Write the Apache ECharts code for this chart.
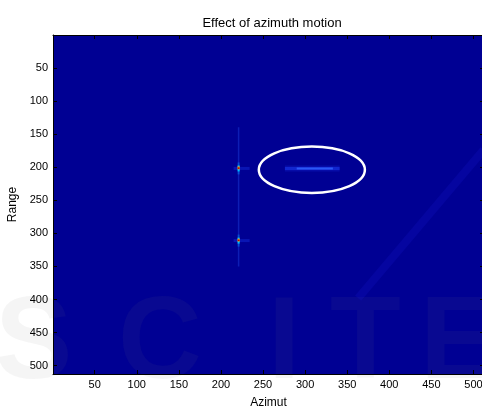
<!DOCTYPE html>
<html><head><meta charset="utf-8">
<script src="https://cdn.jsdelivr.net/npm/echarts@6/dist/echarts.min.js"></script>
<style>html,body{margin:0;padding:0;background:#fff}#c{width:482px;height:409px}</style>
</head><body><div id="c"></div>
<script>
const titleText = 'Effect of azimuth motion';
const xName = 'Azimut';
const yName = 'Range';
const xTicks = [50,100,150,200,250,300,350,400,450,500];
const yTicks = [50,100,150,200,250,300,350,400,450,500];
const axisMin = 0.5, axisMax = 512.5;
// faint vertical streak at azimuth 221: [azimuth, range]
const vStreak = [[221,140],[221,350]];
// bright point targets [azimuth, range]
const spots = [[221,202],[221,311]];
// horizontal smeared target [azStart, azEnd, range]
const smear = [[276,341,202]];
const smearCore = [[290,333,202]];
// highlight ellipse [centerAz, centerRange, halfAz, halfRange]
const ellipse = [[308,204,63,35]];
// faint diagonal ridge [azimuth, range]
const ridge = [[363,398],[512,174]];

const chart = echarts.init(document.getElementById('c'), null, {renderer:'canvas'});
const font = 'Liberation Sans, Arial, sans-serif';
const axCommon = {
  type:'value', min:axisMin, max:axisMax,
  splitLine:{show:false},
  axisLine:{show:true, onZero:false, lineStyle:{color:'#000', width:1}},
};
const wm = (t, x) => ({type:'text', x:x, y:288, style:{text:t, fontSize:116, fontWeight:'bold', fontFamily:font, fill:'rgba(120,120,120,0.075)'}});
chart.setOption({
  animation:false,
  backgroundColor:'#fff',
  title:{text:titleText, left:267, top:12, textAlign:'center',
    textStyle:{fontSize:13, fontWeight:'normal', color:'#000', fontFamily:font}},
  grid:{left:53, top:35, width:431, height:339, show:true, backgroundColor:'#000093', borderWidth:0,
    containLabel:false, outerBoundsMode:'none'},
  xAxis:[
    Object.assign({}, axCommon, {position:'bottom', name:xName, nameLocation:'middle', nameGap:23,
      nameTextStyle:{fontSize:12, color:'#000', fontFamily:font},
      axisTick:{show:true, inside:true, length:4, customValues:xTicks, lineStyle:{color:'#000'}},
      axisLabel:{show:true, customValues:xTicks, margin:5, fontSize:11, color:'#000', fontFamily:font}}),
    Object.assign({}, axCommon, {position:'top',
      axisTick:{show:true, inside:true, length:4, customValues:xTicks, lineStyle:{color:'#000'}},
      axisLabel:{show:false}})
  ],
  yAxis:[
    Object.assign({}, axCommon, {position:'left', inverse:true, name:yName, nameLocation:'middle', nameGap:34,
      nameTextStyle:{fontSize:12, color:'#000', fontFamily:font},
      axisTick:{show:true, inside:true, length:4, customValues:yTicks, lineStyle:{color:'#000'}},
      axisLabel:{show:true, customValues:yTicks, margin:5, fontSize:11, color:'#000', fontFamily:font}}),
    Object.assign({}, axCommon, {position:'right', inverse:true,
      axisTick:{show:true, inside:true, length:4, customValues:yTicks, lineStyle:{color:'#000'}},
      axisLabel:{show:false}})
  ],
  series:[
    {type:'line', data:ridge, symbol:'none', silent:true, z:1,
      lineStyle:{width:8, color:'rgba(40,40,255,0.12)'}},
    {type:'line', data:vStreak, symbol:'none', silent:true, z:2,
      lineStyle:{width:1.5, color:'rgba(40,90,255,0.32)'}},
    {type:'custom', data:smear, silent:true, z:3,
      renderItem(params, api){
        const a = api.coord([api.value(0), api.value(2)]);
        const b = api.coord([api.value(1), api.value(2)]);
        return {type:'group', children:[
          {type:'rect', shape:{x:a[0], y:a[1]-3, width:b[0]-a[0], height:6},
            style:{fill:'rgba(30,60,255,0.2)'}},
          {type:'rect', shape:{x:a[0], y:a[1]-1.5, width:b[0]-a[0], height:3},
            style:{fill:'rgba(30,70,255,0.45)'}}
        ]};
      }},
    {type:'custom', data:smearCore, silent:true, z:4,
      renderItem(params, api){
        const a = api.coord([api.value(0), api.value(2)]);
        const b = api.coord([api.value(1), api.value(2)]);
        return {type:'rect', shape:{x:a[0], y:a[1]-1, width:b[0]-a[0], height:2},
          style:{fill:'rgba(50,100,255,0.8)'}};
      }},
    {type:'custom', data:spots, silent:true, z:5,
      renderItem(params, api){
        const p = api.coord([api.value(0), api.value(1)]);
        return {type:'group', children:[
          {type:'rect', shape:{x:p[0]-5, y:p[1]-1.5, width:16, height:3}, style:{fill:'rgba(30,70,255,0.3)'}},
          {type:'rect', shape:{x:p[0]-1, y:p[1]-6, width:2, height:12}, style:{fill:'rgba(0,140,255,0.45)'}},
          {type:'rect', shape:{x:p[0]-1, y:p[1]-3, width:2, height:6}, style:{fill:'#00c0ff'}},
          {type:'rect', shape:{x:p[0]-1, y:p[1]-2, width:2, height:3}, style:{fill:'#ffa000'}},
          {type:'rect', shape:{x:p[0]-1, y:p[1]-1, width:2, height:1.5}, style:{fill:'#c00000'}}
        ]};
      }},
    {type:'custom', data:ellipse, silent:true, z:6,
      renderItem(params, api){
        const c = api.coord([api.value(0), api.value(1)]);
        const s = api.size([api.value(2), api.value(3)]);
        return {type:'ellipse', shape:{cx:c[0], cy:c[1], rx:s[0], ry:s[1]},
          style:{fill:'none', stroke:'#fff', lineWidth:2.5}};
      }}
  ],
  graphic:[
    {type:'group', silent:true, z:100, children:[
      wm('S', -5), wm('C', 118), wm('I', 268), wm('T', 330), wm('E', 420)
    ]}
  ]
});
</script></body></html>
